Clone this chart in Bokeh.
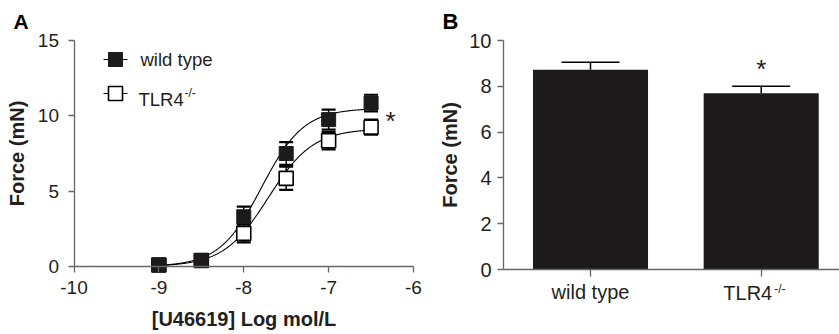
import numpy as np
from bokeh.plotting import figure
from bokeh.layouts import row
from bokeh.models import Range1d, FixedTicker, Label, Whisker, TeeHead, ColumnDataSource
from bokeh.embed import file_html
from bokeh.resources import INLINE

# ---------------- data: panel A (concentration-response) ----------------
log_conc = [-9.0, -8.5, -8.0, -7.5, -7.0, -6.5]
wt_force = [0.10, 0.40, 3.30, 7.50, 9.75, 10.85]
wt_sem = [0.10, 0.15, 0.67, 0.75, 0.66, 0.55]
tlr4_force = [0.10, 0.40, 2.20, 5.85, 8.35, 9.25]
tlr4_sem = [0.10, 0.15, 0.60, 0.77, 0.57, 0.50]
wt_fit = [10.5, -7.79, 1.75]      # top, logEC50, Hill slope (sigmoid fit)
tlr4_fit = [9.15, -7.71, 1.65]
x_ticks_a = [-10, -9, -8, -7, -6]
y_ticks_a = [0, 5, 10, 15]
series_names = ["wild type", "TLR4"]

# ---------------- data: panel B (maximal force) ----------------
groups = ["wild type", "TLR4"]
max_force = [8.72, 7.70]
max_sem = [0.33, 0.30]
y_ticks_b = [0, 2, 4, 6, 8, 10]

FONT = "Liberation Sans"
TEXT = "#231f20"
AXIS = "#666666"
BAR = "#1c1a1b"
H = 334


def style_axes(p, tick_size):
    for ax in p.axis:
        ax.axis_line_color = AXIS
        ax.axis_line_width = 1.3
        ax.major_tick_line_color = AXIS
        ax.major_tick_line_width = 1.3
        ax.major_tick_in = 0
        ax.major_tick_out = 6
        ax.minor_tick_line_color = None
        ax.major_label_text_font = FONT
        ax.major_label_text_font_size = tick_size
        ax.major_label_text_color = TEXT
        ax.axis_label_text_font = FONT
        ax.axis_label_text_font_size = "20px"
        ax.axis_label_text_font_style = "bold"
        ax.axis_label_text_color = TEXT
    p.grid.visible = False
    p.outline_line_color = None
    p.background_fill_color = "white"
    p.border_fill_color = "white"


def make_range(v0, v1, px0, px1, total, flip=False):
    """Range so that value v0 lands on pixel px0 and v1 on px1 (pixels from left/top)."""
    scale = (v1 - v0) / (px1 - px0)
    if not flip:
        start = v0 - px0 * scale
        return Range1d(start, start + total * scale)
    start = v0 + (total - px0) * scale
    return Range1d(start, start - total * scale)


# ======================= Panel A =======================
A_W = 430
xrA = make_range(x_ticks_a[0], x_ticks_a[-1], 73.5, 413.0, A_W)
yrA = make_range(y_ticks_a[0], y_ticks_a[-1], 266.0, 40.0, H, flip=True)
pA = figure(width=A_W, height=H, x_range=xrA, y_range=yrA, title=None,
            output_backend="svg", toolbar_location=None,
            min_border_left=0, min_border_right=0, min_border_top=0, min_border_bottom=0)
style_axes(pA, "19px")
pA.xaxis.ticker = FixedTicker(ticks=x_ticks_a)
pA.xaxis.major_label_overrides = {t: str(t) for t in x_ticks_a}
pA.yaxis.ticker = FixedTicker(ticks=y_ticks_a)
pA.xaxis.fixed_location = y_ticks_a[0]
pA.yaxis.fixed_location = x_ticks_a[0]
pA.xaxis.bounds = (x_ticks_a[0], x_ticks_a[-1])
pA.yaxis.bounds = (y_ticks_a[0], y_ticks_a[-1])
pA.xaxis.axis_label = "[U46619] Log mol/L"
pA.yaxis.axis_label = "Force (mN)"
pA.yaxis.major_label_standoff = 9
pA.yaxis.axis_label_standoff = 7
pA.xaxis.major_label_standoff = 8
pA.xaxis.axis_label_standoff = 11


def pxA(px, py):
    """page pixel -> data coordinate for panel A"""
    return (xrA.start + px / A_W * (xrA.end - xrA.start),
            yrA.end - py / H * (yrA.end - yrA.start))


xs = np.linspace(log_conc[0], log_conc[-1], 300)


def hill(params):
    top, ec50, h = params
    return top / (1.0 + 10 ** ((ec50 - xs) * h))


src_t = ColumnDataSource(dict(x=log_conc, y=tlr4_force,
                              upper=[f + s for f, s in zip(tlr4_force, tlr4_sem)],
                              lower=[f - s for f, s in zip(tlr4_force, tlr4_sem)]))
src_w = ColumnDataSource(dict(x=log_conc, y=wt_force,
                              upper=[f + s for f, s in zip(wt_force, wt_sem)],
                              lower=[f - s for f, s in zip(wt_force, wt_sem)]))

for src in (src_t, src_w):
    pA.add_layout(Whisker(base="x", upper="upper", lower="lower", source=src,
                          line_color="black", line_width=1.5,
                          upper_head=TeeHead(size=14, line_width=2.2, line_color="black"),
                          lower_head=TeeHead(size=14, line_width=2.2, line_color="black")))

pA.line(xs, hill(tlr4_fit), line_color="black", line_width=1.1)
pA.line(xs, hill(wt_fit), line_color="black", line_width=1.1)
pA.scatter("x", "y", source=src_t, marker="square", size=14, fill_color="white",
           line_color="black", line_width=1.6)
pA.scatter("x", "y", source=src_w, marker="square", size=14, fill_color=BAR,
           line_color=BAR, line_width=1)

# --- legend keys (positions are page pixels) ---
leg_px = 115
leg_rows_px = [59, 93]
for i, py in enumerate(leg_rows_px):
    xa, ya = pxA(leg_px - 12, py)
    xb_, _ = pxA(leg_px + 12, py)
    xc, _ = pxA(leg_px, py)
    pA.segment(x0=[xa], y0=[ya], x1=[xb_], y1=[ya], line_color="black", line_width=1.2)
    if i == 0:
        pA.scatter([xc], [ya], marker="square", size=14, fill_color=BAR, line_color=BAR)
    else:
        pA.scatter([xc], [ya], marker="square", size=14, fill_color="white",
                   line_color="black", line_width=1.6)


def lab(p, x, y_page, text, size, **kw):
    """Label whose vertical middle sits at page pixel y_page."""
    kw.setdefault("text_color", TEXT)
    p.add_layout(Label(x=x, y=H - y_page, x_units=kw.pop("x_units", "screen"), y_units="screen",
                       text=text, text_font=FONT, text_font_size=size,
                       text_baseline="middle", **kw))


lab(pA, 140, 58.6, series_names[0], "18.5px")
lab(pA, 138, 98.5, series_names[1], "18.5px")
lab(pA, 184, 92, "-/-", "12px")
lab(pA, 390, 120, "*", "26px", text_align="center")
lab(pA, 13, 20.5, "A", "21px", text_font_style="bold", text_color="black")

# ======================= Panel B =======================
B_W = 839 - A_W
B_X0 = A_W                      # page x where panel B starts
xb = [i + 0.5 for i in range(len(groups))]
xrB = make_range(xb[0], xb[1], 590.0 - B_X0, 760.7 - B_X0, B_W)
yrB = make_range(y_ticks_b[0], y_ticks_b[-1], 269.0, 40.0, H, flip=True)
pB = figure(width=B_W, height=H, x_range=xrB, y_range=yrB, title=None,
            output_backend="svg", toolbar_location=None,
            min_border_left=0, min_border_right=0, min_border_top=0, min_border_bottom=0)
style_axes(pB, "20px")
yaxis_x_b = xrB.start + (503.0 - B_X0) / B_W * (xrB.end - xrB.start)
pB.xaxis.fixed_location = y_ticks_b[0]
pB.yaxis.fixed_location = yaxis_x_b
pB.xaxis.bounds = (yaxis_x_b, xrB.end)
pB.yaxis.bounds = (y_ticks_b[0], y_ticks_b[-1])
pB.xaxis.major_tick_out = 7
pB.xaxis.ticker = FixedTicker(ticks=xb)
pB.xaxis.major_label_overrides = {xb[0]: groups[0], xb[1]: " "}
pB.xaxis.major_label_standoff = 4
pB.yaxis.ticker = FixedTicker(ticks=y_ticks_b)
pB.yaxis.axis_label = "Force (mN)"
pB.yaxis.major_label_standoff = 6
pB.yaxis.axis_label_standoff = 5

src_b = ColumnDataSource(dict(x=xb, top=max_force,
                              upper=[f + s for f, s in zip(max_force, max_sem)]))
pB.vbar(x="x", top="top", width=0.674, bottom=0, source=src_b, fill_color=BAR, line_color=None)
pB.add_layout(Whisker(base="x", upper="upper", lower="top", source=src_b,
                      line_color="black", line_width=1.5, lower_head=None,
                      upper_head=TeeHead(size=58, line_width=1.6, line_color="black")))

lab(pB, xb[1], 292, groups[1], "20px", x_units="data", x_offset=11, text_align="right")
lab(pB, xb[1], 288, "-/-", "12px", x_units="data", x_offset=13, text_align="left")
lab(pB, xb[1], 68, "*", "26px", x_units="data", text_align="center")
lab(pB, 12, 21, "B", "22px", text_font_style="bold", text_color="black")

layout = row(pA, pB, spacing=0)
open("out.html", "w").write(file_html(layout, INLINE))
